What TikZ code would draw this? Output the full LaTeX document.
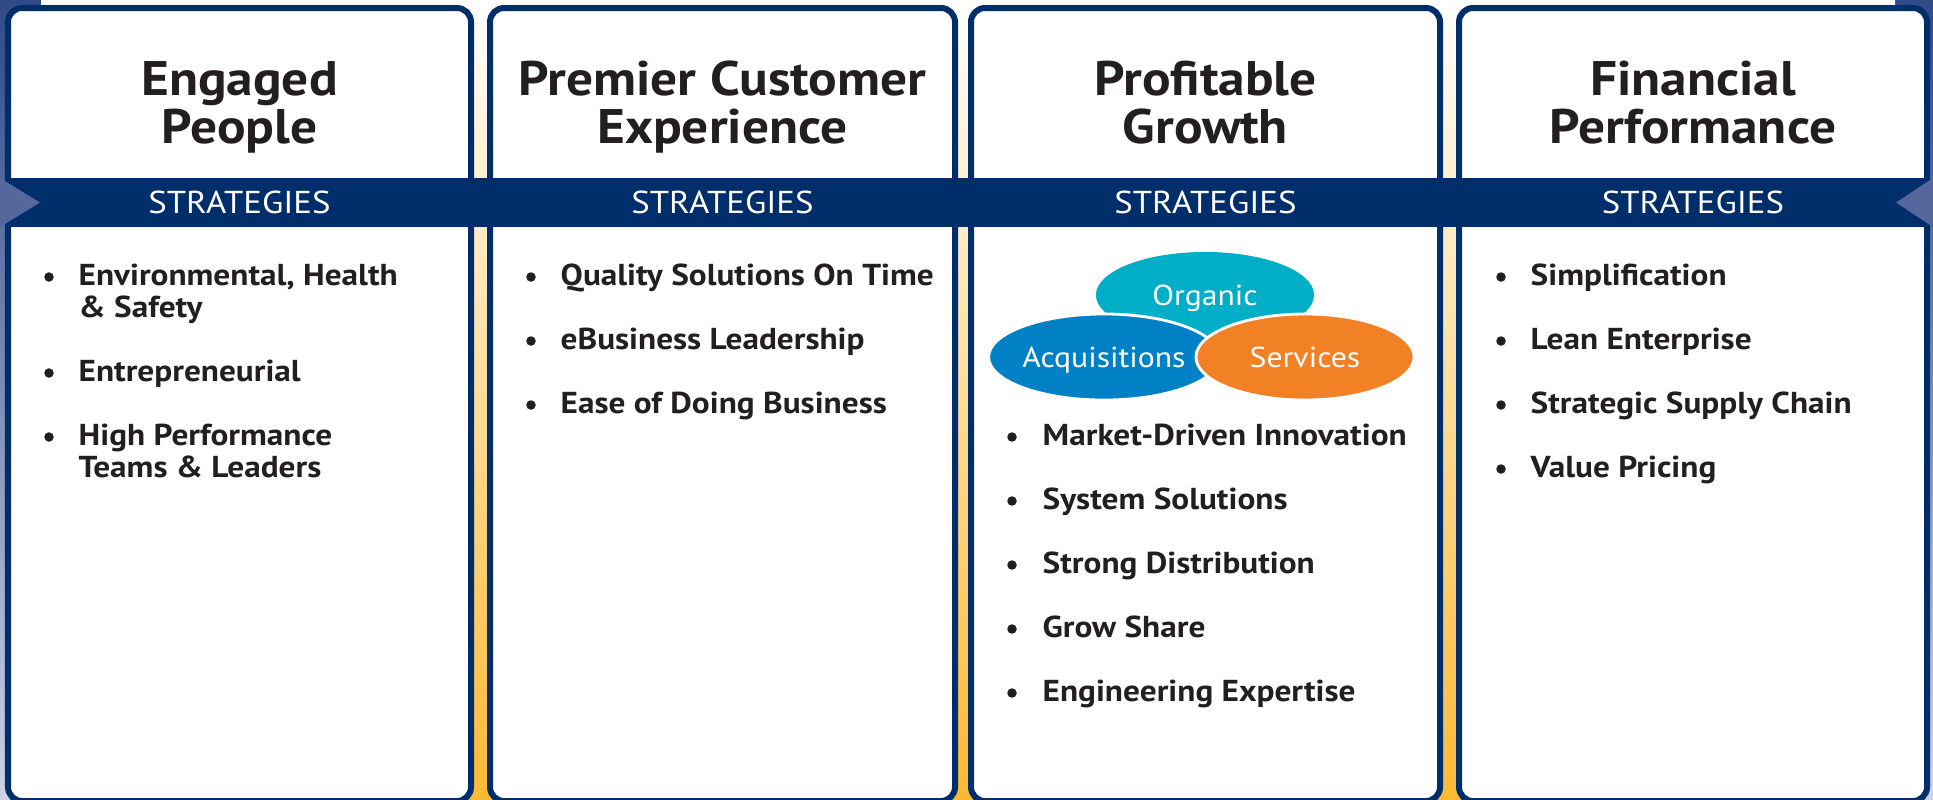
\documentclass[tikz,border=0pt]{standalone}
\usepackage{fontspec}
\setmainfont{PT Sans}[FakeStretch=1.1]
\usetikzlibrary{shapes.geometric}

\definecolor{navy}{RGB}{0,46,106}
\definecolor{slatetop}{RGB}{47,74,135}
\definecolor{slatebot}{RGB}{205,210,228}
\definecolor{slatemid}{RGB}{86,103,157}
\definecolor{cream}{RGB}{253,226,170}
\definecolor{gold}{RGB}{251,185,52}
\definecolor{ink}{RGB}{35,31,32}
\definecolor{organicc}{RGB}{0,174,199}
\definecolor{acqc}{RGB}{0,129,198}
\definecolor{servc}{RGB}{242,129,37}

\newcommand{\stackl}[1]{\begin{tabular}[t]{@{}l@{}}#1\end{tabular}}
\newcommand{\stackc}[1]{\begin{tabular}[t]{@{}c@{}}#1\end{tabular}}

\begin{document}
\begin{tikzpicture}[x=0.01cm, y=-0.01cm,
	pillar/.style={draw=navy, fill=white, line width=0.06cm, rounded corners=0.14cm},
	heading/.style={anchor=base, inner sep=0pt, text=ink, font=\fontsize{13.8}{13.37}\selectfont\bfseries},
	bandtext/.style={anchor=base, inner sep=0pt, text=white, font=\fontsize{9}{9}\selectfont},
	item/.style={anchor=base west, inner sep=0pt, text=ink, font=\fontsize{8.6}{9.1}\selectfont\bfseries},
	dot/.style={circle, fill=ink, inner sep=0pt, minimum size=0.095cm},
	oval/.style={ellipse, inner sep=0pt, minimum width=2.18cm, minimum height=0.86cm, text=white,
		text height=1.45ex, text depth=0.05cm, font=\fontsize{8.2}{9}\selectfont}]
	\useasboundingbox (0,0) rectangle (1933,799);
	\clip (0,0) rectangle (1933,799);

	% backgrounds
	\shade[top color=slatetop, bottom color=slatebot] (0,0) rectangle (1933,799);
	\shade[top color=white, middle color=cream, bottom color=gold] (41,0) rectangle (1895,799);

	% the four pillars
	\foreach \xl/\xr/\nm/\ttl in {8/471/people/{Engaged\\People}, 490/955/customer/{Premier Customer\\Experience},
		971/1440/growth/{Profitable\\Growth}, 1459/1927/finance/{Financial\\Performance}} {
		\draw[pillar] (\xl,8) rectangle (\xr,801);
		\node[heading] (\nm) at ({(\xl+\xr)/2},95) {\stackc{\ttl}};
	}

	% strategies band
	\fill[navy] (5,178) rectangle (1930,227);
	\fill[slatemid] (0,178) -- (40,202.5) -- (0,227) -- cycle;
	\fill[slatemid] (1933,178) -- (1896,202.5) -- (1933,227) -- cycle;
	\foreach \xc/\nm in {239.5/people, 722.5/customer, 1205.5/growth, 1693/finance}
		\node[bandtext] (\nm-band) at (\xc,213) {STRATEGIES};

	% growth ovals
	\node[oval, fill=organicc] (organic) at (1205,295) {Organic};
	\node[oval, fill=acqc, draw=white, line width=0.8pt] (acq) at (1104,357) {Acquisitions};
	\node[oval, fill=servc, draw=white, line width=0.8pt] (serv) at (1305,357) {Services};

	% bullet lists
	\foreach \txt/\row [count=\i] in {{Environmental, Health\\\& Safety}/0, Entrepreneurial/3, {High Performance\\Teams \& Leaders}/5} {
		\node[dot] (people-dot\i) at (49,{277+32*\row}) {};
		\node[item] (people-item\i) at (78,{285+32*\row}) {\stackl{\txt}};
	}
	\foreach \txt/\row [count=\i] in {Quality Solutions On Time/0, eBusiness Leadership/2, Ease of Doing Business/4} {
		\node[dot] (customer-dot\i) at (531,{277+32*\row}) {};
		\node[item] (customer-item\i) at (560,{285+32*\row}) {\stackl{\txt}};
	}
	\foreach \txt/\row [count=\i] in {Market-Driven Innovation/5, System Solutions/7, Strong Distribution/9, Grow Share/11, Engineering Expertise/13} {
		\node[dot] (growth-dot\i) at (1012,{277+32*\row}) {};
		\node[item] (growth-item\i) at (1042,{285+32*\row}) {\stackl{\txt}};
	}
	\foreach \txt/\row [count=\i] in {Simplification/0, Lean Enterprise/2, Strategic Supply Chain/4, Value Pricing/6} {
		\node[dot] (finance-dot\i) at (1501,{277+32*\row}) {};
		\node[item] (finance-item\i) at (1530,{285+32*\row}) {\stackl{\txt}};
	}
\end{tikzpicture}
\end{document}
